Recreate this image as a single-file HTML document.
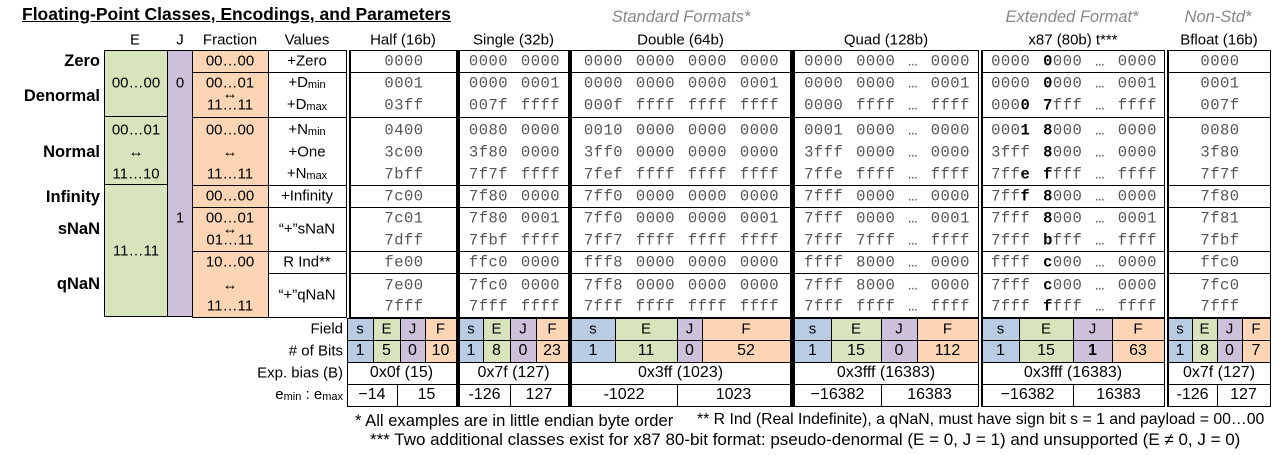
<!DOCTYPE html>
<html><head><meta charset="utf-8">
<style>
html,body{margin:0;padding:0;background:#fff;}
#root{position:relative;width:1280px;height:455px;overflow:hidden;font-family:"Liberation Sans",sans-serif;color:#000;}
.b{position:absolute;box-sizing:border-box;border:1px solid #000;}
.t{position:absolute;white-space:pre;transform:translate(-50%,-50%);line-height:1;}
.m{font-family:"Liberation Mono",monospace;font-size:15.5px;color:#555;letter-spacing:0.5px;word-spacing:3px;}
.m b{color:#000;}
.s{font-size:15px;}
.lab{position:absolute;white-space:pre;transform:translate(-100%,-50%);line-height:1;font-size:15px;}
.ln{position:absolute;background:#000;}
sub{font-size:11px;vertical-align:-1px;}
</style></head>
<body>
<div id="root">
<div style="position:absolute;left:22px;top:4px;font-size:17.5px;font-weight:bold;text-decoration:underline;white-space:pre;">Floating-Point Classes, Encodings, and Parameters</div>
</div>
<script>
const root=document.getElementById('root');
const classLabels=['Zero','Denormal','Normal','Infinity','sNaN','qNaN'];
const classY=[61,96,152,197,229,284];
const valueLines=[61,83,105,130,152,174,196,218,240,262,285,306];
const groups=[[50,72],[72,117],[117,185],[185,207],[207,251],[251,273],[273,317]];
const halfVals=['0000','0001','03ff','0400','3c00','7bff','7c00','7c01','7dff','fe00','7e00','7fff'];
const singleVals=['0000 0000','0000 0001','007f ffff','0080 0000','3f80 0000','7f7f ffff','7f80 0000','7f80 0001','7fbf ffff','ffc0 0000','7fc0 0000','7fff ffff'];
const doubleVals=['0000 0000 0000 0000','0000 0000 0000 0001','000f ffff ffff ffff','0010 0000 0000 0000','3ff0 0000 0000 0000','7fef ffff ffff ffff','7ff0 0000 0000 0000','7ff0 0000 0000 0001','7ff7 ffff ffff ffff','fff8 0000 0000 0000','7ff8 0000 0000 0000','7fff ffff ffff ffff'];
const quadVals=['0000 0000 … 0000','0000 0000 … 0001','0000 ffff … ffff','0001 0000 … 0000','3fff 0000 … 0000','7ffe ffff … ffff','7fff 0000 … 0000','7fff 0000 … 0001','7fff 7fff … ffff','ffff 8000 … 0000','7fff 8000 … 0000','7fff ffff … ffff'];
const x87Vals=['0000 <b>0</b>000 … 0000','0000 <b>0</b>000 … 0001','000<b>0</b> <b>7</b>fff … ffff','000<b>1</b> <b>8</b>000 … 0000','3fff <b>8</b>000 … 0000','7ff<b>e</b> <b>f</b>fff … ffff','7ff<b>f</b> <b>8</b>000 … 0000','7fff <b>8</b>000 … 0001','7fff <b>b</b>fff … ffff','ffff <b>c</b>000 … 0000','7fff <b>c</b>000 … 0000','7fff <b>f</b>fff … ffff'];
const bfloatVals=['0000','0001','007f','0080','3f80','7f7f','7f80','7f81','7fbf','ffc0','7fc0','7fff'];
const formatNames=['Half (16b)','Single (32b)','Double (64b)','Quad (128b)','x87 (80b) t***','Bfloat (16b)'];
const fieldBits=[['1','5','0','10'],['1','8','0','23'],['1','11','0','52'],['1','15','0','112'],['1','15','<b>1</b>','63'],['1','8','0','7']];
const biasVals=['0x0f (15)','0x7f (127)','0x3ff (1023)','0x3fff (16383)','0x3fff (16383)','0x7f (127)'];
const eminVals=['−14','-126','-1022','−16382','−16382','-126'];
const emaxVals=['15','127','1023','16383','16383','127'];

const cols=[[350,456],[459,568],[571,790],[794,978],[982,1164],[1168,1270]];
const bottomCols=[[347,456],[459,568],[571,790],[794,978],[982,1164],[1168,1270]];
const fieldSplits=[[347,373,400,425,456],[459,483,510,536,568],[571,615,677,702,790],[794,831,881,917,978],[982,1019,1073,1112,1164],[1168,1192,1217,1242,1270]];
const eSplit=[397,510,677,881,1073,1217];
const fieldColors=['#b8cce4','#d8e4bc','#ccc0da','#fcd5b4'];
const fieldLetters=['s','E','J','F'];

function box(x,y,w,h,bg,name){const d=document.createElement('div');d.className='b';d.style.cssText+=`left:${x}px;top:${y}px;width:${w}px;height:${h}px;background:${bg||'transparent'}`;


root.appendChild(d);return d;}
function txt(x,y,html,cls,name,extra){const d=document.createElement('div');d.className=cls;d.style.left=x+'px';d.style.top=y+'px';if(extra)d.style.cssText+=extra;d.innerHTML=html;


root.appendChild(d);return d;}
function ln(x,y,w,h,name){const d=document.createElement('div');d.className='ln';d.style.cssText=`left:${x}px;top:${y}px;width:${w}px;height:${h}px`;


root.appendChild(d);}

// group headers
txt(681,17,'Standard Formats*','t','standard-formats-header','color:#888;font-style:italic;font-size:16.5px;');
txt(1072,17,'Extended Format*','t','extended-format-header','color:#888;font-style:italic;font-size:16.5px;');
txt(1218,17,'Non-Std*','t','non-std-header','color:#888;font-style:italic;font-size:16.5px;');
// column headers
txt(135,40,'E','t s','e-column-header');
txt(180,40,'J','t s','j-column-header');
txt(230,40,'Fraction','t s','fraction-column-header');
txt(307,40,'Values','t s','values-column-header');
formatNames.forEach((n,i)=>{txt((cols[i][0]+cols[i][1])/2,40,n,'t s','format-header-'+i);});
// class labels
classLabels.forEach((c,i)=>{txt(100,classY[i],c,'lab','class-label-'+c.toLowerCase(),'font-weight:bold;font-size:16.5px;');});
// E column
box(104,50,64,67,'#d8e4bc','e-cell-zero');
box(104,116,64,69,'#d8e4bc','e-cell-normal');
box(104,184,64,133,'#d8e4bc','e-cell-special');
txt(136,83,'00…00','t s','e-text-zero');
txt(136,130,'00…01','t s','e-text-normal-min');
txt(136,152,'↔','t s','e-text-arrow');
txt(136,174,'11…10','t s','e-text-normal-max');
txt(136,251,'11…11','t s','e-text-special');
// J column
box(167,50,26,267,'#ccc0da','j-column');
txt(180,83,'0','t s','j-text-0');
txt(180,218,'1','t s','j-text-1');
// Fraction column
const fracText=[['00…00'],['00…01','↔','11…11'],['00…00','↔','11…11'],['00…00'],['00…01','↔','01…11'],['10…00','↔','11…11']];
const fracGroups=[[50,72],[72,117],[117,185],[185,207],[207,251],[251,317]];
const fracY=[[61],[83,94,105],[130,152,174],[196],[218,229,240],[262,285,306]];
fracGroups.forEach((g,i)=>{box(192,g[0],77,g[1]-g[0]+1,'#fcd5b4','fraction-cell-'+i);
fracText[i].forEach((t,j)=>txt(230,fracY[i][j],t,'t s','fraction-text-'+i+'-'+j));});
// Values column
const valText=[['+Zero'],['+D<sub>min</sub>','+D<sub>max</sub>'],['+N<sub>min</sub>','+One','+N<sub>max</sub>'],['+Infinity'],['“+”sNaN'],['R Ind**'],['“+”qNaN']];
const valY=[[61],[83,105],[130,152,174],[196],[229],[262],[295]];
groups.forEach((g,i)=>{box(268,g[0],79,g[1]-g[0]+1,'#fff','values-cell-'+i);
valText[i].forEach((t,j)=>txt(307,valY[i][j],t,'t s','values-text-'+i+'-'+j));});
// format data columns
const allVals=[halfVals,singleVals,doubleVals,quadVals,x87Vals,bfloatVals];
cols.forEach((c,ci)=>{
  groups.forEach((g,gi)=>box(c[0],g[0],c[1]-c[0]+1,g[1]-g[0]+1,'#fff','format-'+ci+'-group-'+gi));
  allVals[ci].forEach((v,vi)=>txt((c[0]+c[1])/2+1,valueLines[vi]+1,v,'t m','format-'+ci+'-value-'+vi));
});
// bottom section labels
txt(343,329,'Field','lab','field-row-label');
txt(343,351,'# of Bits','lab','bits-row-label');
txt(343,373,'Exp. bias (B)','lab','bias-row-label');
txt(343,395,'e<sub>min</sub> : e<sub>max</sub>','lab','emin-emax-row-label','font-size:15px;');
fieldSplits.forEach((sp,ci)=>{
  for(let k=0;k<4;k++){
    box(sp[k],318,sp[k+1]-sp[k]+1,23,fieldColors[k],'field-cell-'+ci+'-'+k);
    box(sp[k],340,sp[k+1]-sp[k]+1,23,fieldColors[k],'bits-cell-'+ci+'-'+k);
    txt((sp[k]+sp[k+1])/2,329,fieldLetters[k],'t s','field-letter-'+ci+'-'+k);
    txt((sp[k]+sp[k+1])/2,351,fieldBits[ci][k],'t s','bits-value-'+ci+'-'+k,'font-size:16px;');
  }
  const c=bottomCols[ci];
  box(c[0],362,c[1]-c[0]+1,23,'#fff','bias-cell-'+ci);
  txt((c[0]+c[1])/2,373,biasVals[ci],'t s','bias-value-'+ci,'font-size:16px;');
  box(c[0],384,eSplit[ci]-c[0]+1,23,'#fff','emin-cell-'+ci);
  box(eSplit[ci],384,c[1]-eSplit[ci]+1,23,'#fff','emax-cell-'+ci);
  txt((c[0]+eSplit[ci])/2,395,eminVals[ci],'t s','emin-value-'+ci,'font-size:16px;');
  txt((eSplit[ci]+c[1])/2,395,emaxVals[ci],'t s','emax-value-'+ci,'font-size:16px;');
});
// separators
ln(346,50,1,268,'values-half-separator-a');
ln(349,50,1,268,'values-half-separator-b');
ln(456,50,3,357,'half-single-separator');
ln(568,50,3,357,'single-double-separator');
ln(790,50,4,357,'double-quad-separator');
ln(978,50,1,357,'quad-x87-separator-a');
ln(981,50,1,357,'quad-x87-separator-b');
ln(1164,50,1,357,'x87-bfloat-separator-a');
ln(1167,50,1,357,'x87-bfloat-separator-b');
// footnotes
txt(355,411,'* All examples are in little endian byte order','', 'footnote-1','position:absolute;font-size:16.6px;white-space:pre;');
txt(697,411,'** R Ind (Real Indefinite), a qNaN, must have sign bit s = 1 and payload = 00…00','','footnote-2','position:absolute;font-size:15.8px;white-space:pre;');
txt(370,430,'*** Two additional classes exist for x87 80-bit format: pseudo-denormal (E = 0, J = 1) and unsupported (E ≠ 0, J = 0)','','footnote-3','position:absolute;font-size:17px;white-space:pre;');
</script>
</body></html>
